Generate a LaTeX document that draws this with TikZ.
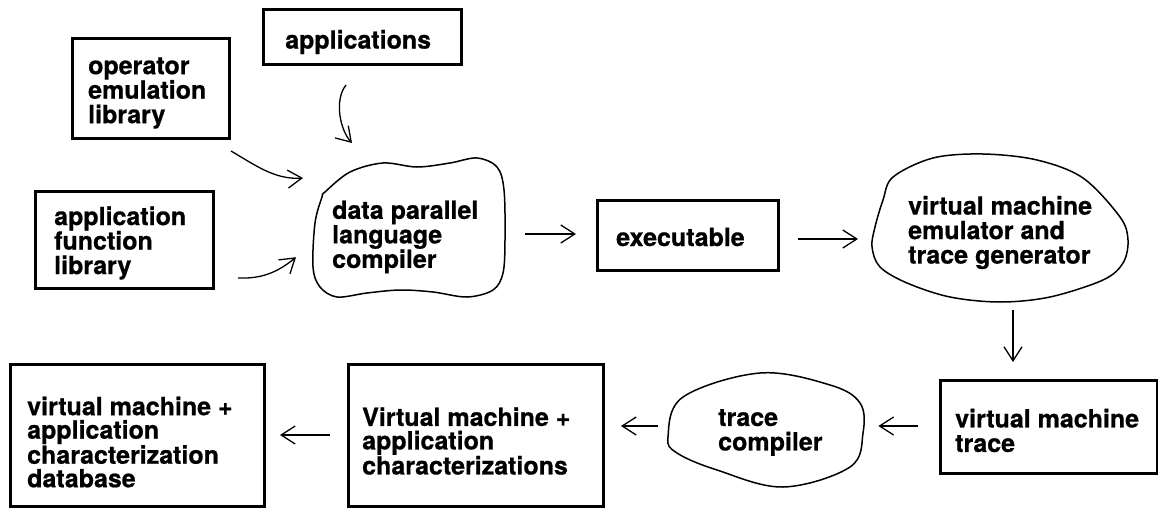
\documentclass[tikz,border=0pt]{standalone}
\usepackage{fontspec}
\setmainfont{TeX Gyre Heros}[BoldFeatures={FakeBold=0.7}]
\usetikzlibrary{arrows.meta}
\begin{document}
\begin{tikzpicture}[x=1pt,y=-1pt,
  box/.style={draw,line width=3pt,inner sep=0pt,anchor=north west},
  area/.style={inner sep=0pt,anchor=north west},
  lbl/.style={anchor=west,align=left,inner sep=0pt,font=\bfseries\fontsize{25}{24.5}\selectfont},
  lbltight/.style={lbl,font=\bfseries\fontsize{25}{23.5}\selectfont},
  blob/.style={draw,line width=1.5pt,line join=round},
  arr/.style={line width=1.3pt,-{Straight Barb[length=14pt,width=18pt]}}]
\useasboundingbox (0,0) rectangle (1158,508);

% rectangular stages
\node[box,minimum width=157pt,minimum height=100pt] (op) at (71,37) {};
\node[box,minimum width=198pt,minimum height=55pt] (apps) at (262,8) {};
\node[box,minimum width=178pt,minimum height=97pt] (afl) at (34,190) {};
\node[box,minimum width=181pt,minimum height=70pt] (exe) at (596,199) {};
\node[box,minimum width=217pt,minimum height=93pt] (vmt) at (939,379) {};
\node[box,minimum width=255pt,minimum height=142pt] (chars) at (347,363) {};
\node[box,minimum width=254pt,minimum height=142pt] (db) at (9,363) {};

% free-form stages: outline plus the area it covers
\draw[blob] plot[smooth cycle,tension=0.55] coordinates {
  (325,192) (350,172) (383,163) (417,167) (450,163) (477,158) (497,167)
  (504,190) (505,240) (503,273) (493,290) (467,297) (433,292) (400,290)
  (367,293) (337,297) (320,287) (313,267) (315,223) (322,197)};
\node[area,minimum width=195pt,minimum height=141pt] (dpl) at (312,157) {};

\draw[blob] plot[smooth cycle,tension=0.55] coordinates {
  (893,177) (933,158) (983,154) (1037,160) (1083,178) (1120,217)
  (1128,240) (1123,263) (1103,280) (1050,297) (1000,302) (950,297)
  (907,283) (880,267) (872,247) (875,227) (883,200)};
\node[area,minimum width=259pt,minimum height=150pt] (emu) at (870,153) {};

\draw[blob] plot[smooth cycle,tension=0.6] coordinates {
  (668,437) (683,397) (760,373) (830,385) (860,403) (863,433)
  (850,467) (783,487) (717,470) (677,453)};
\node[area,minimum width=196pt,minimum height=114pt] (tc) at (667,373) {};

% labels
\node[lbl] (opT) at (88,93) {operator\\emulation\\library};
\node[lbl] (appsT) at (285,42) {applications};
\node[lbl] (aflT) at (54,243) {application\\function\\library};
\node[lbl] (dplT) at (332,237) {data parallel\\language\\compiler};
\node[lbl] (exeT) at (616,237) {executable};
\node[lbl] (emuT) at (908,232.5) {virtual machine\\emulator and\\trace generator};
\node[lbl] (vmtT) at (955,430.5) {virtual machine\\trace};
\node[lbl] (tcT) at (718,432.5) {trace\\compiler};
\node[lbltight] (charsT) at (362,441) {Virtual machine +\\application\\characterizations};
\node[lbltight] (dbT) at (27,442) {virtual machine +\\application\\characterization\\database};

% inputs to the compiler
\draw[arr] ([shift={(0,11)}]op.south east) .. controls (255,165) and (275,180) .. ([shift={(-9,21)}]dpl.north west);
\draw[arr] ([shift={(84,19)}]apps.south west) .. controls (334,100) and (340,130) .. ([shift={(40,-14)}]dpl.north west);
\draw[arr] ([shift={(23,-12)}]afl.south east) .. controls (262,279) and (278,272) .. ([shift={(-16,29.5)}]dpl.west);

% processing chain
\draw[arr] ([xshift=18pt]dpl.east |- 0,234) -- ([xshift=-20pt]exe.west |- 0,234);
\draw[arr] ([xshift=18pt]exe.east |- 0,239) -- ([xshift=-12pt]emu.west |- 0,239);
\draw[arr] ([yshift=-7pt]emu.south -| 1013,0) -- ([yshift=17pt]vmt.north -| 1013,0);
\draw[arr] ([xshift=-21pt]vmt.west |- 0,426) -- ([xshift=15pt]tc.east |- 0,426);
\draw[arr] ([xshift=-9pt]tc.west |- 0,426) -- ([xshift=16pt]chars.east |- 0,426);
\draw[arr] ([xshift=-17pt]chars.west |- 0,435) -- ([xshift=14pt]db.east |- 0,435);
\end{tikzpicture}
\end{document}
